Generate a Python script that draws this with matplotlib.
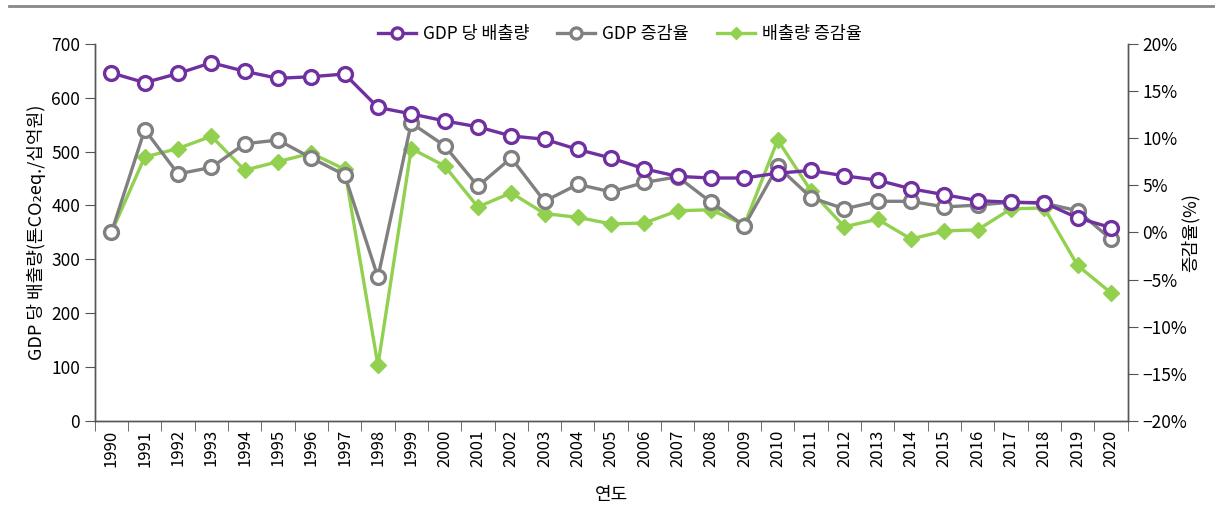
import matplotlib
matplotlib.use("Agg")
import matplotlib.pyplot as plt
from matplotlib.lines import Line2D
from matplotlib.ticker import FuncFormatter, MultipleLocator

plt.rcParams['font.family'] = ['Noto Sans CJK KR', 'DejaVu Sans']
plt.rcParams['axes.unicode_minus'] = True

years = list(range(1990, 2021))
year_labels = [str(y) for y in years]

# GDP 당 배출량 (톤CO2eq./십억원), 왼쪽 축
gdp_intensity = [646, 628, 645, 665, 649, 636, 639, 644, 582, 570,
                 557, 546, 529, 523, 504, 488, 468, 454, 451, 451,
                 460, 465, 455, 447, 431, 420, 409, 406, 405, 377,
                 359]
# GDP 증감율 (%), 오른쪽 축
gdp_growth = [0.0, 10.9, 6.2, 6.9, 9.4, 9.8, 7.9, 6.1, -4.75, 11.6,
              9.2, 4.9, 7.9, 3.3, 5.1, 4.3, 5.3, 5.9, 3.2, 0.7,
              7.0, 3.7, 2.5, 3.3, 3.3, 2.7, 2.9, 3.2, 3.1, 2.3,
              -0.7]
# 배출량 증감율 (%), 오른쪽 축
emis_growth = [0.0, 8.0, 8.9, 10.2, 6.6, 7.5, 8.4, 6.7, -14.1, 8.9,
               7.05, 2.7, 4.2, 2.0, 1.6, 0.9, 1.0, 2.3, 2.4, 0.8,
               9.8, 4.4, 0.6, 1.4, -0.7, 0.16, 0.27, 2.5, 2.6, -3.5,
               -6.4]

PURPLE = "#7030A0"
GRAY = "#808080"
GREEN = "#92D050"
AXC = "#555555"

fig = plt.figure(figsize=(12.15, 5.17), dpi=100)
ax = fig.add_axes([0.078, 0.1857, 0.850, 0.7295])
ax2 = ax.twinx()

x = list(range(len(years)))

ax2.plot(x, emis_growth, color=GREEN, lw=2.4, marker="D", ms=8,
         mfc=GREEN, mec=GREEN, label="배출량 증감율", zorder=2)
ax2.plot(x, gdp_growth, color=GRAY, lw=2.4, marker="o", ms=10,
         mfc="white", mec=GRAY, mew=2.4, label="GDP 증감율", zorder=3)
ax.plot(x, gdp_intensity, color=PURPLE, lw=2.4, marker="o", ms=10,
        mfc="white", mec=PURPLE, mew=2.4, label="GDP 당 배출량")

# 보라색 선이 위에 보이도록
ax.set_zorder(ax2.get_zorder() + 1)
ax.patch.set_visible(False)

ax.set_xlim(-0.5, len(years) - 0.5)
ax.set_ylim(0, 700)
ax.yaxis.set_major_locator(MultipleLocator(100))
ax2.set_ylim(-20, 20)
ax2.yaxis.set_major_locator(MultipleLocator(5))
ax2.yaxis.set_major_formatter(FuncFormatter(lambda v, p: f"{v:.0f}%".replace("-", "\u2212")))

ax.set_xticks(x)
ax.set_xticklabels(year_labels, rotation=90, fontsize=12)
ax.set_xticks([i - 0.5 for i in range(len(years) + 1)], minor=True)
ax.tick_params(axis="x", which="major", length=0, pad=6)
ax.tick_params(axis="x", which="minor", length=7, color=AXC, direction="out")
ax.tick_params(axis="y", labelsize=12.5, length=7, color=AXC, direction="out")
ax2.tick_params(axis="y", labelsize=12.5, length=7, color=AXC, direction="out")

for a in (ax, ax2):
    a.spines["top"].set_visible(False)
    for s in ("left", "right", "bottom"):
        a.spines[s].set_color(AXC)
        a.spines[s].set_linewidth(1.0)

ax.set_ylabel("GDP 당 배출량(톤CO₂eq./십억원)", fontsize=13)
ax.yaxis.set_label_coords(-0.047, 0.5)
ax2.set_ylabel("증감율(%)", fontsize=13)
ax2.yaxis.set_label_coords(1.052, 0.5)
ax.set_xlabel("연도", fontsize=13, labelpad=14)

handles = [ax.get_lines()[0], ax2.get_lines()[1], ax2.get_lines()[0]]
leg = fig.legend(handles, [h.get_label() for h in handles], loc="center",
                 bbox_to_anchor=(0.51, 0.935), ncol=3, frameon=False,
                 fontsize=12.5, handlelength=2.2, columnspacing=1.6,
                 handletextpad=0.4, markerscale=0.8)

# 맨 위 가로선
fig.add_artist(Line2D([0.007, 1.0], [0.988, 0.988], color="#888888", lw=2.0,
                      transform=fig.transFigure))

fig.savefig("out.png", dpi=100)
